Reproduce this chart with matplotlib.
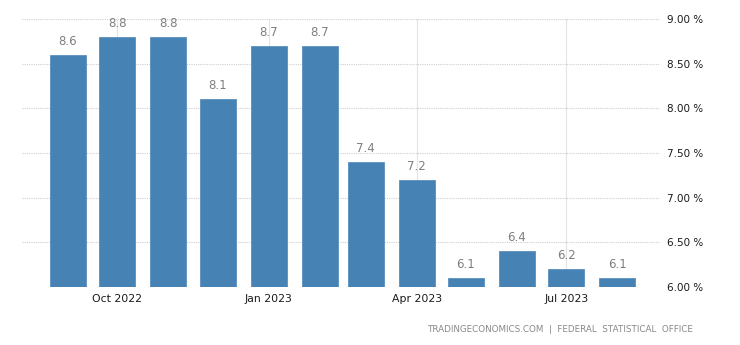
import numpy as np
import matplotlib
matplotlib.use('Agg')
import matplotlib.pyplot as plt
import matplotlib.dates as mdates
from datetime import date, timedelta

months = ['2022-09', '2022-10', '2022-11', '2022-12', '2023-01', '2023-02',
          '2023-03', '2023-04', '2023-05', '2023-06', '2023-07', '2023-08']
values = [8.6, 8.8, 8.8, 8.1, 8.7, 8.7, 7.4, 7.2, 6.1, 6.4, 6.2, 6.1]
tick_months = ['2022-10', '2023-01', '2023-04', '2023-07']
tick_labels = ['Oct 2022', 'Jan 2023', 'Apr 2023', 'Jul 2023']
source = 'TRADINGECONOMICS.COM  |  FEDERAL  STATISTICAL  OFFICE'


def to_date(s):
    y, m = s.split('-')
    return date(int(y), int(m), 1)


dates = [to_date(m) for m in months]
ticks = [to_date(m) for m in tick_months]

fig = plt.figure(figsize=(7.4, 3.45), dpi=100)
ax = fig.add_axes([22 / 740, 1 - 287 / 345, (660 - 22) / 740, (287 - 19) / 345])

ax.bar(dates, values, width=22, color='#4682b4', edgecolor='#5a90be', linewidth=0.6, zorder=3)

for d, v in zip(dates, values):
    ax.annotate(f'{v:.1f}', (mdates.date2num(d), v), xytext=(0, 5), textcoords='offset points',
                ha='center', va='bottom', fontsize=8.5, color='#7f7f7f')

ax.set_ylim(6, 9)
ax.set_xlim(dates[0] - timedelta(days=28), dates[-1] + timedelta(days=26))
ax.set_yticks(np.arange(6, 9.01, 0.5))
ax.set_yticklabels([f'{t:.2f} %' for t in np.arange(6, 9.01, 0.5)])
ax.set_xticks(ticks)
ax.set_xticklabels(tick_labels)

ax.yaxis.tick_right()
ax.tick_params(axis='y', length=0, pad=5, labelsize=7.5, labelcolor='#1a1a1a')
ax.tick_params(axis='x', length=0, pad=5, labelsize=7.8, labelcolor='#1a1a1a')

ax.grid(axis='y', color='#cfcfcf', linestyle=(0, (1, 1)), linewidth=0.8, zorder=0)
ax.grid(axis='x', color='#e4e4e4', linestyle='-', linewidth=0.8, zorder=0)
for s in ax.spines.values():
    s.set_visible(False)

fig.text(693 / 740, 1 - 329 / 345, source, ha='right', va='center', fontsize=6.3, color='#888888')

fig.savefig('out.png', dpi=100)
